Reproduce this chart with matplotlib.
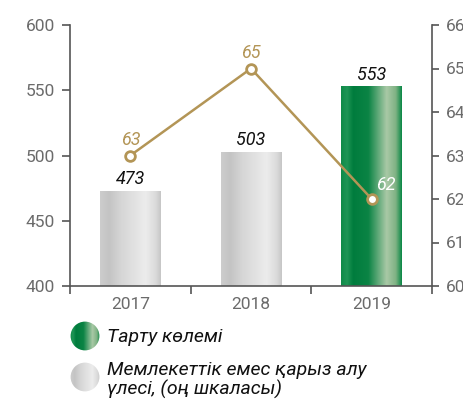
import numpy as np
import matplotlib
matplotlib.use("Agg")
from matplotlib import pyplot as plt
from matplotlib.colors import LinearSegmentedColormap
from matplotlib.patches import Circle

plt.rcParams['font.family'] = ['Roboto', 'DejaVu Sans']

years = ['2017', '2018', '2019']
volume = [473, 503, 553]
share = [63, 65, 62]
legend_labels = ['Тарту көлемі', 'Мемлекеттік емес қарыз алу\nүлесі, (оң шкаласы)']

gold = '#b39556'
tick_col = '#6b6b6b'
spine_col = '#555555'

grey_cmap = LinearSegmentedColormap.from_list('grey', [
    (0.0, '#cdcdcd'), (0.15, '#c4c4c4'), (0.35, '#d6d6d6'),
    (0.75, '#ececec'), (0.92, '#dadada'), (1.0, '#c6c6c6')])
green_cmap = LinearSegmentedColormap.from_list('green', [
    (0.0, '#0f8a48'), (0.1, '#1e9555'), (0.2, '#007c3d'),
    (0.45, '#0b8445'), (0.75, '#a9c9a6'), (0.9, '#7fb284'), (1.0, '#0a8846')])

fig = plt.figure(figsize=(4.64, 4.00), dpi=100)
ax = fig.add_axes([70 / 464, 114 / 400, 362 / 464, 261 / 400])
ax2 = ax.twinx()

x = np.arange(len(years))
bw = 0.5
grad = np.linspace(0, 1, 256).reshape(1, -1)
bars = ax.bar(x, volume, width=bw, color='none', zorder=2)
for i, b in enumerate(bars):
    cmap = green_cmap if i == len(years) - 1 else grey_cmap
    im = ax.imshow(grad, cmap=cmap, aspect='auto', zorder=2,
                   extent=[b.get_x(), b.get_x() + bw, 400, volume[i]])
    im.set_clip_path(b)
    ax.text(x[i], volume[i] + 2, str(volume[i]), ha='center', va='bottom',
            fontsize=13, style='italic', color='#111111')

ax.set_xlim(-0.5, 2.5)
ax.set_ylim(400, 600)
ax.set_yticks([400, 450, 500, 550, 600])
ax.set_xticks(x)
ax.set_xticklabels(years)
ax.set_xticks([-0.5, 0.5, 1.5, 2.5], minor=True)
ax.tick_params(axis='x', which='major', length=0, pad=8, labelsize=12.5, labelcolor=tick_col)
ax.tick_params(axis='x', which='minor', length=6, width=1.2, color=spine_col)
ax.tick_params(axis='y', length=6, width=1.2, color=spine_col, labelsize=12.5,
               labelcolor=tick_col, pad=5)

ax2.plot(x, share, color=gold, lw=1.8, marker='o', ms=7, mfc='white',
         mec=gold, mew=2, zorder=5)
ax2.set_ylim(60, 66)
ax2.set_yticks(range(60, 67))
ax2.tick_params(axis='y', length=5, width=1.2, color=spine_col, labelsize=12.5,
                labelcolor=tick_col, pad=5)
for i, v in enumerate(share):
    if i == len(share) - 1:
        ax2.text(x[i] + 0.04, v + 0.12, str(v), ha='left', va='bottom',
                 fontsize=13, style='italic', color='white')
    else:
        ax2.text(x[i], v + 0.15, str(v), ha='center', va='bottom',
                 fontsize=13, style='italic', color=gold)

for a in (ax, ax2):
    a.spines['top'].set_visible(False)
    for s in ('left', 'right', 'bottom'):
        a.spines[s].set_color(spine_col)
        a.spines[s].set_linewidth(1.2)
ax.spines['right'].set_visible(False)
ax2.spines['left'].set_visible(False)
ax2.spines['bottom'].set_visible(False)
ax.set_zorder(ax2.get_zorder() - 1)
ax2.patch.set_visible(False)

# legend markers: gradient circles
for k, (cmap, yc) in enumerate([(green_cmap, 336), (grey_cmap, 377)]):
    lax = fig.add_axes([(85 - 15) / 464, (400 - yc - 15) / 400, 30 / 464, 30 / 400])
    lax.set_xlim(0, 1)
    lax.set_ylim(0, 1)
    lax.axis('off')
    im = lax.imshow(grad, cmap=cmap, aspect='auto', extent=[0, 1, 0, 1])
    circ = Circle((0.5, 0.5), 0.48, transform=lax.transAxes, fc='none', ec='none')
    lax.add_patch(circ)
    im.set_clip_path(circ)

fig.text(107 / 464, 1 - 337 / 400, legend_labels[0], fontsize=14, style='italic',
         color='#111111', va='center', ha='left')
fig.text(107 / 464, 1 - 380 / 400, legend_labels[1], fontsize=14, style='italic',
         color='#111111', va='center', ha='left', linespacing=1.05)

fig.savefig('out.png', dpi=100)
